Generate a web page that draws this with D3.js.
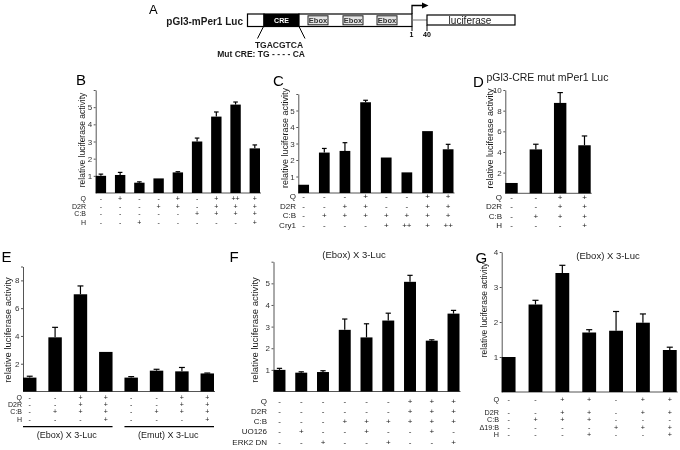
<!DOCTYPE html>
<html>
<head>
<meta charset="utf-8">
<script src="https://cdn.jsdelivr.net/npm/d3@7"></script>
<style>
  body { margin: 0; background: #fff; }
  svg { display: block; font-family: "Liberation Sans", Arial, sans-serif; will-change: transform; }
</style>
</head>
<body>
<svg id="fig" width="680" height="450"></svg>
<script>
// ---- panel B ----
var bValues = [1.0, 1.05, 0.6, 0.85, 1.2, 3.0, 4.45, 5.15, 2.6];
var bErrors = [0.1, 0.15, 0.05, 0, 0.04, 0.2, 0.27, 0.15, 0.2];
var bRowLabels = ['Q', 'D2R', 'C:B', 'H'];
var bRowMarks = ['- + - - + - + ++ +', '- - - + + - + + +', '- - - - - + + + +', '- - + - - - - - +'];
var bTicks = [1, 2, 3, 4, 5, 6];
var bTickLabels = ['1', '2', '3', '4', '5', ''];

// ---- panel C ----
var cValues = [0.5, 2.45, 2.55, 5.5, 2.15, 1.25, 3.75, 2.65];
var cErrors = [0, 0.25, 0.5, 0.12, 0, 0, 0, 0.3];
var cRowLabels = ['Q', 'D2R', 'C:B', 'Cry1'];
var cRowMarks = ['- - - + - - + +', '- - + + - - + +', '- + + + + + + +', '- - - - + ++ + ++'];
var cTicks = [1, 2, 3, 4, 5, 6];
var cTickLabels = ['1', '2', '3', '4', '5', ''];

// ---- panel D ----
var dValues = [1.0, 4.25, 8.75, 4.65];
var dErrors = [0, 0.5, 1.0, 0.9];
var dRowLabels = ['Q', 'D2R', 'C:B', 'H'];
var dRowMarks = ['- - + +', '- - + +', '- + + +', '- - - +'];
var dTicks = [2, 4, 6, 8, 10];
var dTickLabels = ['2', '4', '6', '8', '10'];

// ---- panel E ----
var eValues = [1.0, 3.9, 7.0, 2.85, 1.0, 1.5, 1.45, 1.3];
var eErrors = [0.1, 0.72, 0.6, 0, 0.07, 0.1, 0.28, 0.03];
var eRowLabels = ['Q', 'D2R', 'C:B', 'H'];
var eRowMarks = ['- - + + - - + +', '- - + + - - + +', '- + + + - + + +', '- - - + - - - +'];
var eTicks = [2, 4, 6, 8, 9];
var eTickLabels = ['2', '4', '6', '8', ''];
var eGroups = ['(Ebox) X 3-Luc', '(Emut) X 3-Luc'];

// ---- panel F ----
var fValues = [1.0, 0.87, 0.9, 2.85, 2.5, 3.28, 5.07, 2.35, 3.6];
var fErrors = [0.07, 0.04, 0.06, 0.5, 0.63, 0.34, 0.3, 0.04, 0.15];
var fRowLabels = ['Q', 'D2R', 'C:B', 'UO126', 'ERK2 DN'];
var fRowMarks = ['- - - - - - + + +', '- - - - - - + + +', '- - - + + + + + +', '- + - - + - - + -', '- - + - - + - - +'];
var fTicks = [1, 2, 3, 4, 5, 6];
var fTickLabels = ['1', '2', '3', '4', '5', ''];

// ---- panel G ----
var gValues = [1.0, 2.5, 3.4, 1.7, 1.75, 1.98, 1.2];
var gErrors = [0, 0.12, 0.22, 0.08, 0.55, 0.25, 0.08];
var gRowLabels = ['Q', 'D2R', 'C:B', '\u039419:B', 'H'];
var gRowMarks = ['- - + + - + +', '- - + + - + +', '- + + + - - -', '- - - - + + +', '- - - + - - +'];
var gTicks = [1, 2, 3, 4];
var gTickLabels = ['1', '2', '3', '4'];

var svg = d3.select('#fig');
var ink = '#1a1a1a';
var axisInk = '#555';

function drawPanel(o) {
  var g = svg.append('g').attr('class', 'panel-' + o.letter);
  var x = d3.scaleBand()
    .domain(d3.range(o.values.length))
    .range([o.x0, o.x1])
    .paddingInner(o.pad)
    .paddingOuter(0);
  var y = d3.scaleLinear().domain([0, o.max]).range([o.base, o.top]);

  g.append('line')
    .attr('x1', o.x0).attr('x2', o.x1 + 1)
    .attr('y1', o.base).attr('y2', o.base)
    .attr('stroke', axisInk);

  var ax = g.append('g')
    .attr('transform', 'translate(' + o.x0 + ',0)')
    .call(d3.axisLeft(y)
      .tickValues(o.ticks)
      .tickFormat(function(d, i) { return o.tickLabels[i]; })
      .tickSize(2)
      .tickSizeOuter(0)
      .tickPadding(1.5));
  ax.attr('font-family', null).attr('font-size', 8);
  ax.select('.domain').attr('stroke', axisInk);
  ax.selectAll('.tick line').attr('stroke', axisInk);
  ax.selectAll('.tick text').attr('fill', '#333');

  g.selectAll('rect.bar').data(o.values).enter().append('rect')
    .attr('class', 'bar')
    .attr('x', function(d, i) { return x(i); })
    .attr('width', x.bandwidth())
    .attr('y', function(d) { return y(d); })
    .attr('height', function(d) { return o.base - y(d); })
    .attr('fill', '#000');

  var cx = function(i) { return x(i) + x.bandwidth() / 2; };
  var cap = x.bandwidth() * 0.22;
  var idx = d3.range(o.values.length).filter(function(i) { return o.errors[i] > 0; });
  var err = g.selectAll('g.err').data(idx).enter().append('g').attr('class', 'err');
  err.append('line')
    .attr('x1', cx).attr('x2', cx)
    .attr('y1', function(i) { return y(o.values[i]); })
    .attr('y2', function(i) { return y(o.values[i] + o.errors[i]); })
    .attr('stroke', '#000').attr('stroke-width', 1.2);
  err.append('line')
    .attr('x1', function(i) { return cx(i) - cap; })
    .attr('x2', function(i) { return cx(i) + cap; })
    .attr('y1', function(i) { return y(o.values[i] + o.errors[i]); })
    .attr('y2', function(i) { return y(o.values[i] + o.errors[i]); })
    .attr('stroke', '#000').attr('stroke-width', 1.2);

  // condition table under the bars
  o.rowLabels.forEach(function(lab, r) {
    g.append('text')
      .attr('x', o.rowX).attr('y', o.rowY[r])
      .attr('text-anchor', 'end')
      .attr('font-size', o.rowSize).attr('fill', ink)
      .text(lab);
    var marks = o.rowMarks[r].split(' ');
    g.selectAll(null).data(marks).enter().append('text')
      .attr('x', function(d, i) { return cx(i); })
      .attr('y', o.rowY[r])
      .attr('text-anchor', 'middle')
      .attr('font-size', o.rowSize).attr('fill', ink)
      .text(function(d) { return d; });
  });

  g.append('text')
    .attr('transform', 'translate(' + o.ylx + ',' + o.yly + ') rotate(-90)')
    .attr('text-anchor', 'middle')
    .attr('font-size', o.ylSize).attr('fill', ink)
    .text('relative luciferase activity');

  g.append('text')
    .attr('x', o.lx).attr('y', o.ly)
    .attr('font-size', 15).attr('fill', '#000')
    .text(o.letter);

  if (o.title) {
    g.append('text')
      .attr('x', o.tx).attr('y', o.ty)
      .attr('text-anchor', o.tAnchor || 'middle')
      .attr('font-size', o.tSize).attr('fill', ink)
      .text(o.title);
  }
  return { x: x, y: y, g: g };
}

drawPanel({
  letter: 'B', values: bValues, errors: bErrors, rowLabels: bRowLabels, rowMarks: bRowMarks,
  ticks: bTicks, tickLabels: bTickLabels, max: 6,
  x0: 95.7, x1: 260, pad: 0.46, base: 193, top: 90,
  rowX: 86, rowY: [201, 208.5, 216, 224.5], rowSize: 7,
  ylx: 84.5, yly: 140, ylSize: 8.5, lx: 76, ly: 85
});

drawPanel({
  letter: 'C', values: cValues, errors: cErrors, rowLabels: cRowLabels, rowMarks: cRowMarks,
  ticks: cTicks, tickLabels: cTickLabels, max: 6,
  x0: 298.3, x1: 453.5, pad: 0.48, base: 193, top: 94,
  rowX: 296, rowY: [199, 208.5, 218, 227.5], rowSize: 8,
  ylx: 288, yly: 138, ylSize: 9, lx: 273, ly: 85.5
});

drawPanel({
  letter: 'D', values: dValues, errors: dErrors, rowLabels: dRowLabels, rowMarks: dRowMarks,
  ticks: dTicks, tickLabels: dTickLabels, max: 10,
  x0: 505.3, x1: 590.7, pad: 0.49, base: 193.3, top: 90,
  rowX: 502, rowY: [199.7, 209.2, 218.5, 228], rowSize: 8,
  ylx: 492.5, yly: 138.5, ylSize: 9, lx: 473, ly: 86.5,
  title: 'pGl3-CRE mut mPer1 Luc', tx: 486.5, ty: 81, tAnchor: 'start', tSize: 10.5
});

var e = drawPanel({
  letter: 'E', values: eValues, errors: eErrors, rowLabels: eRowLabels, rowMarks: eRowMarks,
  ticks: eTicks, tickLabels: eTickLabels, max: 9,
  x0: 23, x1: 214, pad: 0.47, base: 391.5, top: 266.5,
  rowX: 22, rowY: [399.5, 406.5, 413.8, 421.5], rowSize: 7,
  ylx: 11, yly: 330, ylSize: 9.5, lx: 1.5, ly: 262
});
// group brackets under panel E
var eSpans = [[0, 3], [4, 7]];
eSpans.forEach(function(s, k) {
  var xa = e.x(s[0]), xb = e.x(s[1]) + e.x.bandwidth();
  e.g.append('line')
    .attr('x1', xa).attr('x2', xb).attr('y1', 426.7).attr('y2', 426.7)
    .attr('stroke', '#000').attr('stroke-width', 1.3);
  e.g.append('text')
    .attr('x', (xa + xb) / 2 - 1).attr('y', 437.5)
    .attr('text-anchor', 'middle').attr('font-size', 9).attr('fill', ink)
    .text(eGroups[k]);
});

drawPanel({
  letter: 'F', values: fValues, errors: fErrors, rowLabels: fRowLabels, rowMarks: fRowMarks,
  ticks: fTicks, tickLabels: fTickLabels, max: 6,
  x0: 273.5, x1: 459.5, pad: 0.45, base: 391.5, top: 261.7,
  rowX: 267, rowY: [403.5, 413.5, 423.5, 434, 444.5], rowSize: 8,
  ylx: 258, yly: 330, ylSize: 9.5, lx: 229.5, ly: 262,
  title: '(Ebox) X 3-Luc', tx: 354, ty: 258, tSize: 9.5
});

drawPanel({
  letter: 'G', values: gValues, errors: gErrors, rowLabels: gRowLabels, rowMarks: gRowMarks,
  ticks: gTicks, tickLabels: gTickLabels, max: 4,
  x0: 501.7, x1: 676.7, pad: 0.485, base: 392, top: 252,
  rowX: 499, rowY: [402, 414.5, 422, 429.5, 437], rowSize: 7.2,
  ylx: 486.5, yly: 310, ylSize: 8.5, lx: 475.5, ly: 262.5,
  title: '(Ebox) X 3-Luc', tx: 608, ty: 258.5, tSize: 9.5
});

// ---- panel A: promoter construct schematic ----
var aSegments = [
  { x0: 247.5, x1: 264, fill: '#fff' },
  { x0: 264, x1: 299, fill: '#000', label: 'CRE' },
  { x0: 299, x1: 412, fill: '#fff' }
];
var aEboxes = [308, 343, 377];
var A = svg.append('g').attr('class', 'panel-A');
A.append('text').attr('x', 149).attr('y', 13.5).attr('font-size', 13).text('A');
A.append('text').attr('x', 243).attr('y', 25).attr('text-anchor', 'end')
  .attr('font-size', 10).attr('font-weight', 'bold').attr('fill', ink).text('pGl3-mPer1 Luc');
aSegments.forEach(function(s) {
  A.append('rect').attr('x', s.x0).attr('y', 14).attr('width', s.x1 - s.x0).attr('height', 12.5)
    .attr('fill', s.fill).attr('stroke', '#000').attr('stroke-width', 1.2);
  if (s.label) {
    A.append('text').attr('x', (s.x0 + s.x1) / 2).attr('y', 23).attr('text-anchor', 'middle')
      .attr('font-size', 7).attr('font-weight', 'bold').attr('fill', '#fff').text(s.label);
  }
});
aEboxes.forEach(function(x0) {
  A.append('rect').attr('x', x0).attr('y', 15.8).attr('width', 20).attr('height', 9)
    .attr('fill', '#e6e6e6').attr('stroke', '#222').attr('stroke-width', 1);
  A.append('text').attr('x', x0 + 10).attr('y', 23).attr('text-anchor', 'middle')
    .attr('font-size', 7.5).attr('font-weight', 'bold').attr('fill', '#333').text('Ebox');
});
// transcription start arrow
A.append('path').attr('d', 'M412,14 V5.5 H423').attr('fill', 'none').attr('stroke', '#000').attr('stroke-width', 1.3);
A.append('path').attr('d', 'M422,2.5 L428.5,5.5 L422,8.5 Z').attr('fill', '#000');
A.append('line').attr('x1', 412).attr('x2', 427).attr('y1', 20).attr('y2', 20).attr('stroke', '#777');
A.append('line').attr('x1', 412).attr('x2', 412).attr('y1', 26.5).attr('y2', 31).attr('stroke', '#000');
A.append('line').attr('x1', 427).attr('x2', 427).attr('y1', 25).attr('y2', 31).attr('stroke', '#000');
A.append('text').attr('x', 411.5).attr('y', 37).attr('text-anchor', 'middle')
  .attr('font-size', 7).attr('font-weight', 'bold').text('1');
A.append('text').attr('x', 427).attr('y', 37).attr('text-anchor', 'middle')
  .attr('font-size', 7).attr('font-weight', 'bold').text('40');
A.append('rect').attr('x', 427).attr('y', 15).attr('width', 88).attr('height', 10)
  .attr('fill', '#fff').attr('stroke', '#000').attr('stroke-width', 1.2);
A.append('text').attr('x', 470).attr('y', 23.5).attr('text-anchor', 'middle')
  .attr('font-size', 10).attr('fill', ink).text('luciferase');
// CRE sequence callout
A.append('line').attr('x1', 263.5).attr('y1', 26.5).attr('x2', 257.5).attr('y2', 38.5).attr('stroke', '#000');
A.append('line').attr('x1', 299).attr('y1', 26.5).attr('x2', 305).attr('y2', 38.5).attr('stroke', '#000');
A.append('text').attr('x', 279).attr('y', 47.5).attr('text-anchor', 'middle')
  .attr('font-size', 8.5).attr('font-weight', 'bold').attr('fill', ink).text('TGACGTCA');
A.append('text').attr('x', 305).attr('y', 57).attr('text-anchor', 'end')
  .attr('font-size', 8.5).attr('font-weight', 'bold').attr('fill', ink).text('Mut CRE: TG - - - - CA');
</script>
</body>
</html>
